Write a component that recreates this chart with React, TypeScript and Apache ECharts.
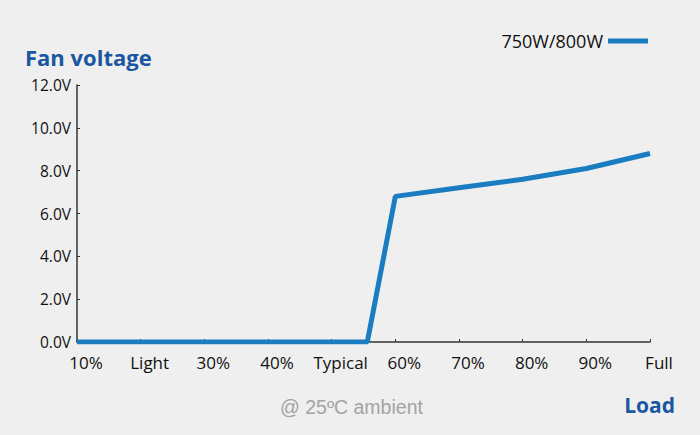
import React, { useEffect, useRef } from "react";
import * as echarts from "echarts";

const categories = ["10%", "Light", "30%", "40%", "Typical", "60%", "70%", "80%", "90%", "Full"];
const seriesName = "750W/800W";
// [load position (category index), fan voltage]
const fanVoltage: [number, number][] = [
  [0, 0],
  [1, 0],
  [2, 0],
  [3, 0],
  [4, 0],
  [4.56, 0],
  [5, 6.8],
  [6, 7.2],
  [7, 7.6],
  [8, 8.1],
  [9, 8.8],
];
const yTicks = [0, 2, 4, 6, 8, 10, 12];

export default function App() {
  const ref = useRef<HTMLDivElement>(null);
  useEffect(() => {
    if (!ref.current) return;
    const chart = echarts.init(ref.current, undefined, { renderer: "svg" });
    const font = "'Open Sans', Lato, sans-serif";
    chart.setOption({
      animation: false,
      backgroundColor: "#efefef",
      grid: { left: 77, right: 50, top: 85, bottom: 93, containLabel: false },
      legend: {
        right: 47,
        top: 27,
        align: "right",
        itemWidth: 40,
        itemHeight: 5,
        itemGap: 8,
        icon: "rect",
        textStyle: { fontFamily: font, fontSize: 18, color: "#111" },
        data: [seriesName],
      },
      xAxis: {
        type: "value",
        min: 0,
        max: categories.length - 1,
        interval: 1,
        splitLine: { show: false },
        axisLine: { show: true, lineStyle: { color: "#333", width: 1.5 } },
        axisTick: { show: true, inside: true, length: 3, lineStyle: { color: "#333" } },
        axisLabel: {
          formatter: (v: number) => categories[Math.round(v)] ?? "",
          fontFamily: font,
          fontSize: 17,
          color: "#111",
          margin: 12,
          padding: [0, 0, 0, 18],
          showMinLabel: true,
          showMaxLabel: true,
        },
      },
      yAxis: {
        type: "value",
        min: 0,
        max: 12,
        interval: 2,
        splitLine: { show: false },
        axisLine: { show: true, lineStyle: { color: "#333", width: 1.5 } },
        axisTick: { show: true, inside: true, length: 3, lineStyle: { color: "#333" } },
        axisLabel: {
          formatter: (v: number) => (yTicks.includes(v) ? v.toFixed(1) + "V" : ""),
          fontFamily: font,
          fontSize: 15.5,
          color: "#111",
          margin: 6,
        },
      },
      series: [
        {
          name: seriesName,
          type: "line",
          data: fanVoltage,
          showSymbol: false,
          symbol: "none",
          lineStyle: { color: "#1a7cc1", width: 5 },
          itemStyle: { color: "#1a7cc1" },
        },
      ],
      graphic: [
        {
          type: "text",
          left: 25,
          top: 46,
          style: { text: "Fan voltage", font: `bold 22px ${font}`, fill: "#1b57a0" },
        },
        {
          type: "text",
          right: 25,
          top: 394,
          style: { text: "Load", font: `bold 21px ${font}`, fill: "#1b57a0" },
        },
        {
          type: "text",
          left: 280,
          top: 397,
          style: { text: "@ 25ºC ambient", font: "19.5px 'Liberation Sans', Arial, sans-serif", fill: "#a3a3a3" },
        },
      ],
    });
    return () => chart.dispose();
  }, []);
  return <div ref={ref} style={{ width: 700, height: 435, position: "absolute", left: 0, top: 0 }} />;
}
